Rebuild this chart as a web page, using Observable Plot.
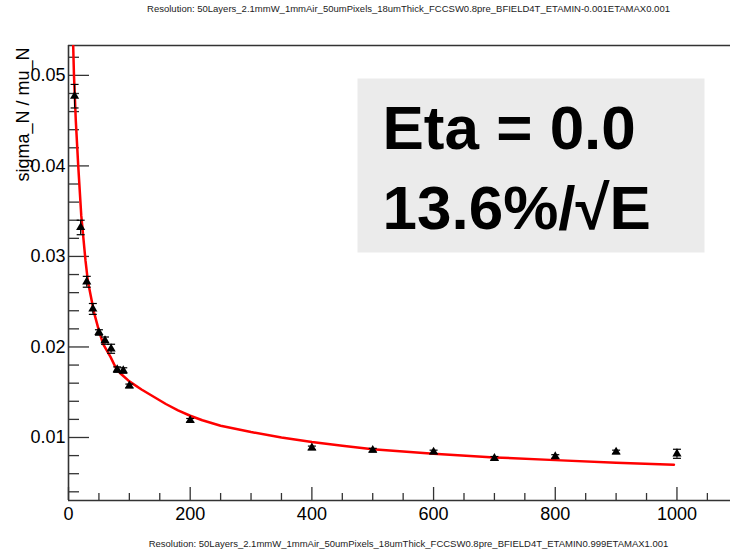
<!DOCTYPE html>
<html>
<head>
<meta charset="utf-8">
<script src="https://cdn.jsdelivr.net/npm/d3@7"></script>
<script src="https://cdn.jsdelivr.net/npm/@observablehq/plot@0.6"></script>
<style>
  html, body { margin: 0; padding: 0; background: #fff; }
  #chart { width: 730px; height: 550px; }
</style>
</head>
<body>
<div id="chart"></div>
<script>
// ---- data ----
const energies      = [10, 20, 30, 40, 50, 60, 70, 80, 90, 100, 200, 400, 500, 600, 700, 800, 900, 1000];
const resolution    = [0.0477, 0.0332, 0.0272, 0.0242, 0.0216, 0.0207, 0.0198, 0.0175, 0.0174, 0.0157, 0.0119, 0.00885, 0.0086, 0.0084, 0.0077, 0.0079, 0.0084, 0.0082];
const resolutionErr = [0.0013, 0.0008, 0.0006, 0.0006, 0.0003, 0.0004, 0.0005, 0.0003, 0.0003, 0.0002, 0.0002, 0.0002, 0.0002, 0.0002, 0.0002, 0.0002, 0.0002, 0.0005];

const fitEnergies = [7.7, 9, 12, 16, 21, 28, 32, 42, 50, 57, 69, 77, 85, 100, 120, 140, 160, 180, 200, 220, 250, 300, 350, 400, 450, 500, 600, 700, 800, 900, 995];
const fitValues   = [0.0533, 0.0500, 0.0450, 0.0400, 0.0345, 0.0295, 0.0272, 0.0238, 0.0218, 0.0203, 0.0189, 0.0178, 0.0171, 0.0162, 0.0153, 0.0145, 0.0137, 0.0130, 0.0124, 0.0119, 0.0113, 0.0106, 0.0100, 0.0095, 0.0091, 0.0087, 0.0082, 0.0078, 0.0075, 0.0072, 0.0070];

const xTicks      = [0, 200, 400, 600, 800, 1000];
const xTickLabels = ["0", "200", "400", "600", "800", "1000"];
const xMinorTicks = [50, 100, 150, 250, 300, 350, 450, 500, 550, 650, 700, 750, 850, 900, 950, 1050];
const yTicks      = [0.01, 0.02, 0.03, 0.04, 0.05];
const yTickLabels = ["0.01", "0.02", "0.03", "0.04", "0.05"];
const yMinorTicks = [0.004, 0.006, 0.008, 0.012, 0.014, 0.016, 0.018, 0.022, 0.024, 0.026, 0.028, 0.032, 0.034, 0.036, 0.038, 0.042, 0.044, 0.046, 0.048, 0.052];

const xDomain = [0, 1088];
const yDomain = [0.00304, 0.0533];

const titleTop   = "Resolution: 50Layers_2.1mmW_1mmAir_50umPixels_18umThick_FCCSW0.8pre_BFIELD4T_ETAMIN-0.001ETAMAX0.001";
const captionBot = "Resolution: 50Layers_2.1mmW_1mmAir_50umPixels_18umThick_FCCSW0.8pre_BFIELD4T_ETAMIN0.999ETAMAX1.001";
const yLabel     = "sigma_N / mu_N";
const boxLines   = ["Eta = 0.0", "13.6%/\u221AE"];

// ---- build ----
const points = energies.map((E, i) => ({E, v: resolution[i], err: resolutionErr[i]}));
const fit = fitEnergies.map((E, i) => ({E, v: fitValues[i]}));

const W = 730, H = 550, mL = 68, mR = 0, mT = 45, mB = 50;
const fw = W - mL - mR, fh = H - mT - mB;

const capSymbol = {
  draw(ctx) { ctx.moveTo(-4, 0); ctx.lineTo(4, 0); }
};

const axisColor = "#333";
const font = "'Liberation Sans', Arial, Helvetica, sans-serif";

const chart = Plot.plot({
  width: W, height: H,
  marginLeft: mL, marginRight: mR, marginTop: mT, marginBottom: mB,
  style: {fontFamily: font, fontSize: "18px", color: "black", background: "white", overflow: "visible"},
  x: {domain: xDomain},
  y: {domain: yDomain},
  marks: [
    // grey text box
    Plot.frame({fill: "#ebebeb", stroke: null, insetLeft: 289, insetTop: 33, insetRight: 26, insetBottom: 248}),
    Plot.text([boxLines[0]], {text: d => d, frameAnchor: "top-left", dx: 314, dy: 103, textAnchor: "start", lineAnchor: "bottom", fontSize: 62, fontWeight: "bold", fill: "black"}),
    Plot.text([boxLines[1]], {text: d => d, frameAnchor: "top-left", dx: 314, dy: 183, textAnchor: "start", lineAnchor: "bottom", fontSize: 62, fontWeight: "bold", fill: "black"}),
    // ticks (inward)
    Plot.tickY(yTicks, {y: d => d, insetRight: fw - 21, stroke: axisColor, strokeWidth: 1.3}),
    Plot.tickY(yMinorTicks, {y: d => d, insetRight: fw - 11, stroke: axisColor, strokeWidth: 1.3}),
    Plot.tickX(xTicks, {x: d => d, insetTop: fh - 13, stroke: axisColor, strokeWidth: 1.3}),
    Plot.tickX(xMinorTicks, {x: d => d, insetTop: fh - 7, stroke: axisColor, strokeWidth: 1.3}),
    // axis lines
    Plot.ruleX([xDomain[0]], {stroke: axisColor, strokeWidth: 1.6}),
    Plot.ruleY([yDomain[0]], {stroke: axisColor, strokeWidth: 1.6}),
    Plot.ruleY([yDomain[1]], {stroke: axisColor, strokeWidth: 1.6}),
    // labels
    Plot.axisY({ticks: yTicks, tickSize: 0, tickPadding: 3, tickFormat: d => yTickLabels[yTicks.indexOf(d)], label: null, fontSize: 18}),
    Plot.axisX({ticks: xTicks, tickSize: 0, tickPadding: 7, tickFormat: d => xTickLabels[xTicks.indexOf(d)], label: null, fontSize: 18}),
    // fit curve
    Plot.line(fit, {x: "E", y: "v", stroke: "#ff0000", strokeWidth: 2.5, clip: true}),
    // error bars
    Plot.ruleX(points, {x: "E", y1: d => d.v - d.err, y2: d => d.v + d.err, stroke: "black", strokeWidth: 1.2}),
    Plot.dot(points, {x: "E", y: d => d.v + d.err, symbol: capSymbol, stroke: "black", strokeWidth: 1.2, fill: "none"}),
    Plot.dot(points, {x: "E", y: d => d.v - d.err, symbol: capSymbol, stroke: "black", strokeWidth: 1.2, fill: "none"}),
    // points
    Plot.dot(points, {x: "E", y: "v", symbol: "triangle", r: 3.4, fill: "black", stroke: null}),
    // titles
    Plot.text([titleTop], {text: d => d, frameAnchor: "top", dx: 9, dy: -37, lineAnchor: "middle", fontSize: 9.5, fill: "#222"}),
    Plot.text([captionBot], {text: d => d, frameAnchor: "bottom", dx: 9, dy: 43, lineAnchor: "middle", fontSize: 9.5, fill: "#222"}),
    Plot.text([yLabel], {text: d => d, frameAnchor: "top-left", dx: -40, dy: 2, rotate: -90, textAnchor: "end", lineAnchor: "bottom", fontSize: 18, fill: "black"})
  ]
});
document.getElementById("chart").appendChild(chart);
</script>
</body>
</html>
